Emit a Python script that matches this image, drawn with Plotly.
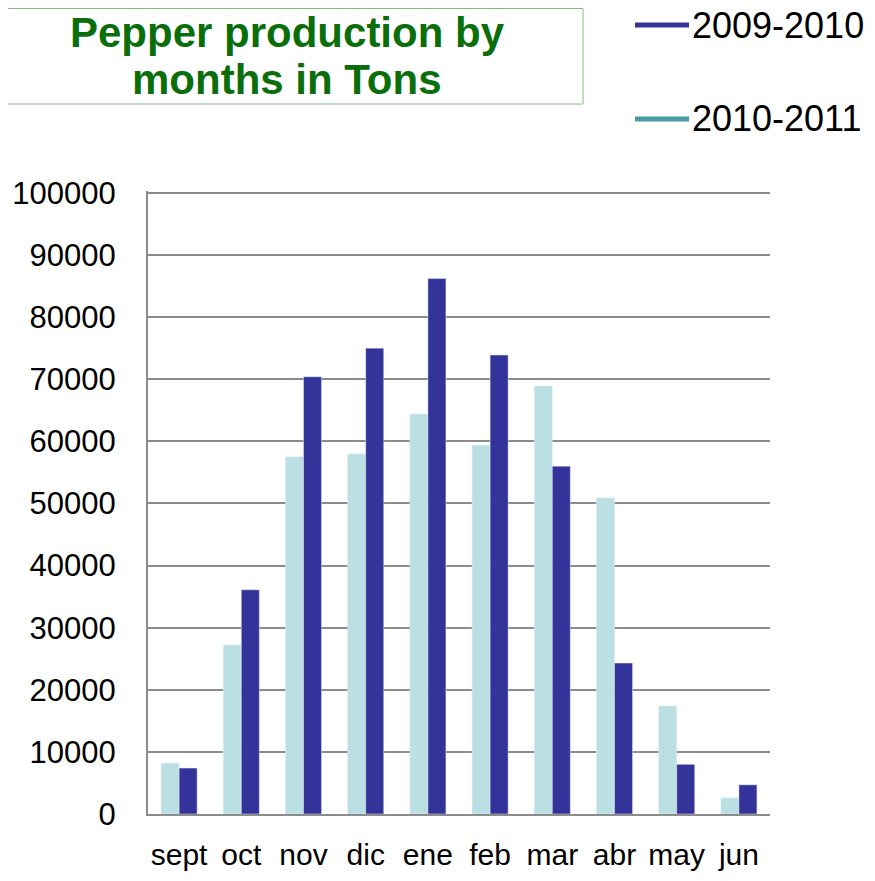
import plotly.graph_objects as go

MONTHS = ["sept", "oct", "nov", "dic", "ene", "feb", "mar", "abr", "may", "jun"]
PROD_2009_2010 = [7400, 36100, 70400, 75000, 86200, 73900, 56000, 24300, 8000, 4700]
PROD_2010_2011 = [8200, 27200, 57500, 58000, 64400, 59400, 68900, 50900, 17400, 2600]
Y_TICKS = list(range(0, 100001, 10000))
TITLE_LINES = ["Pepper production by", "months in Tons"]
SERIES_NAMES = ["2009-2010", "2010-2011"]

DARK = "#333399"
LIGHT = "#BBE0E3"
TEAL = "#4A9BA5"
GRID = "#8C8C8C"
GREEN = "#0A6E0A"
BOX = "#7FBF7F"
FONT = "Liberation Sans"

# page body adds an 8px margin, so the figure is drawn 8px smaller
W, H = 867, 865
# plot area in figure pixels
L, R, T, B = 140, 762, 183, 806


def px_x(p):
    return (p - L) / (R - L)


def px_y(p):
    return (B - p) / (B - T)


fig = go.Figure()
fig.add_bar(x=MONTHS, y=PROD_2010_2011, name=SERIES_NAMES[1], marker_color=LIGHT, showlegend=False)
fig.add_bar(x=MONTHS, y=PROD_2009_2010, name=SERIES_NAMES[0], marker_color=DARK, showlegend=False)

shapes = [dict(type="rect", xref="paper", yref="paper", x0=px_x(-8), x1=px_x(575),
               y0=px_y(96), y1=px_y(0.5), line=dict(color=BOX, width=1))]
annotations = []
for text, yc in zip(TITLE_LINES, [24, 71]):
    annotations.append(dict(text=f"<b>{text}</b>", xref="paper", yref="paper", x=px_x(279), y=px_y(yc),
                            xanchor="center", yanchor="middle", showarrow=False,
                            font=dict(family=FONT, size=42, color=GREEN)))

# hand-made legend with long line keys
for name, color, yc in zip(SERIES_NAMES, [DARK, TEAL], [17, 111]):
    shapes.append(dict(type="line", xref="paper", yref="paper", x0=px_x(627), x1=px_x(681),
                       y0=px_y(yc), y1=px_y(yc), line=dict(color=color, width=5)))
    annotations.append(dict(text=name, xref="paper", yref="paper", x=px_x(682), y=px_y(yc),
                            xanchor="left", yanchor="middle", showarrow=False,
                            font=dict(family=FONT, size=36, color="black")))

fig.update_layout(
    width=W, height=H,
    margin=dict(l=L, r=W - R, t=T, b=H - B, autoexpand=False),
    paper_bgcolor="white", plot_bgcolor="white",
    barmode="group", bargap=0.42, bargroupgap=0,
    font=dict(family=FONT, color="black"),
    showlegend=False,
    shapes=shapes,
    annotations=annotations,
)
fig.update_xaxes(showline=True, linecolor=GRID, linewidth=2, ticks="", showgrid=False, automargin=False,
                 tickfont=dict(family=FONT, size=30, color="black"), ticklabelstandoff=13)
fig.update_yaxes(range=[0, 100300], tickvals=Y_TICKS, ticktext=[str(v) for v in Y_TICKS],
                 showline=True, linecolor=GRID, linewidth=2, automargin=False,
                 gridcolor=GRID, gridwidth=2, ticks="", zeroline=False,
                 tickfont=dict(family=FONT, size=31, color="black"), ticklabelstandoff=24)

fig.write_html("out.html")
